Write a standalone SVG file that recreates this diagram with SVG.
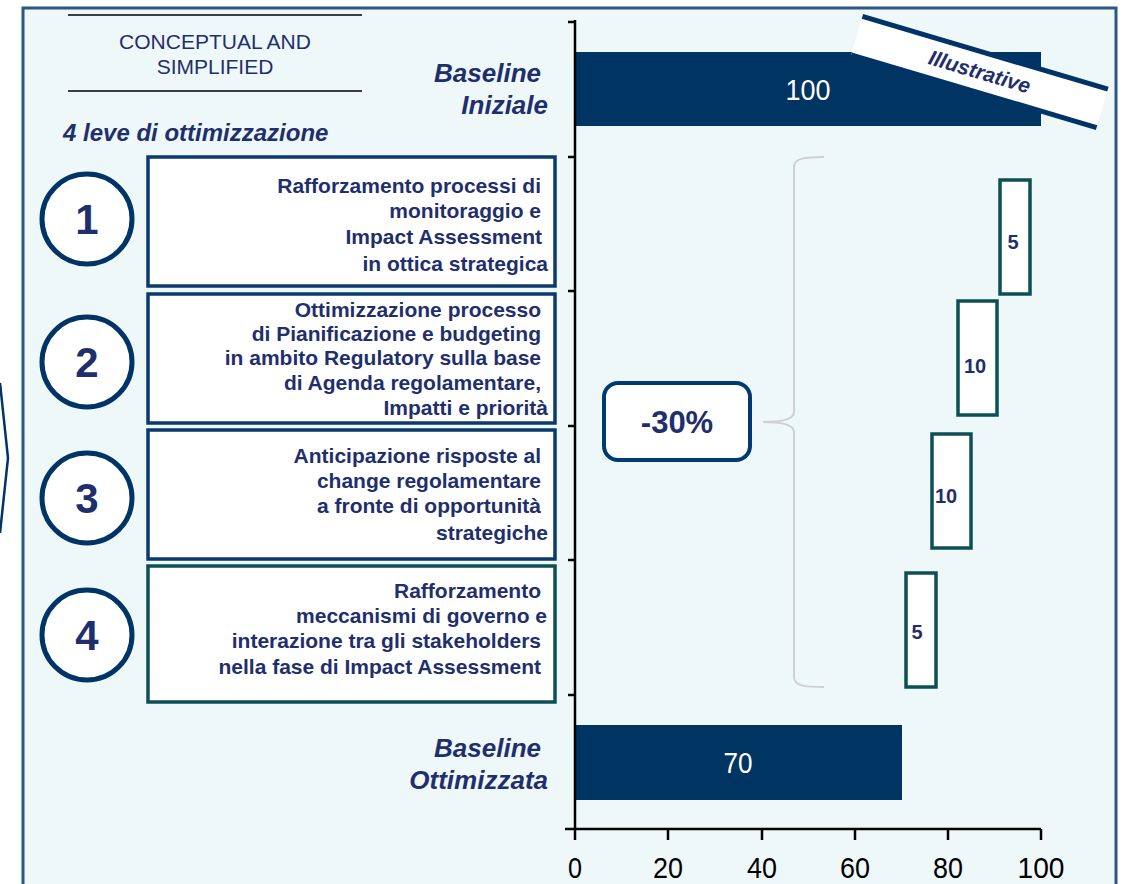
<svg xmlns="http://www.w3.org/2000/svg" width="1127" height="884" viewBox="0 0 1127 884">
<defs>
<style>
.t{font-family:"Liberation Sans",Arial,sans-serif;fill:#1f2f6e}
.b{font-weight:bold}
.lv{font-family:"Liberation Sans",Arial,sans-serif;fill:#1f2f6e;font-weight:bold;font-size:21px;text-anchor:end}
.bl{font-family:"Liberation Sans",Arial,sans-serif;fill:#1f2f6e;font-weight:bold;font-style:italic;font-size:26px;text-anchor:end}
.circ{fill:#ffffff;stroke:#003366;stroke-width:5}
.num{font-family:"Liberation Sans",Arial,sans-serif;fill:#1f2f6e;font-weight:bold;font-size:42px;text-anchor:middle}
.box{fill:#ffffff;stroke:#0a3a6b;stroke-width:3.5}
.boxg{fill:#ffffff;stroke:#0d4f55;stroke-width:3.5}
.wf{fill:#ffffff;stroke:#0d4f55;stroke-width:3.5}
.wft{font-family:"Liberation Sans",Arial,sans-serif;fill:#1f2f6e;font-weight:bold;font-size:20px;text-anchor:middle}
.bar{fill:#003462}
.bart{font-family:"Liberation Sans",Arial,sans-serif;fill:#ffffff;font-size:29px;text-anchor:middle}
.ax{stroke:#000000;stroke-width:2.5;fill:none}
.axt{font-family:"Liberation Sans",Arial,sans-serif;fill:#000000;font-size:30px;text-anchor:middle}
</style>
</defs>
<rect x="0" y="0" width="1127" height="884" fill="#ffffff"/>
<polyline points="0,383 8,458 0,533" fill="none" stroke="#003366" stroke-width="2.5"/>
<rect id="panel" x="23" y="8" width="1093" height="890" fill="#eff8f9" stroke="#2b5785" stroke-width="3"/>

<g id="header">
<line x1="68" y1="15" x2="362" y2="15" stroke="#000" stroke-width="1.5"/>
<line x1="68" y1="91" x2="362" y2="91" stroke="#000" stroke-width="1.5"/>
<text class="t" x="215" y="49" font-size="21" text-anchor="middle" fill="#2a3a7a">CONCEPTUAL AND</text>
<text class="t" x="215" y="74" font-size="21" text-anchor="middle" fill="#2a3a7a">SIMPLIFIED</text>
</g>
<text class="t b" x="63" y="141" font-size="24" font-style="italic">4 leve di ottimizzazione</text>

<g id="baseline-iniziale-label">
<text class="bl" x="541" y="82">Baseline</text>
<text class="bl" x="548" y="114">Iniziale</text>
</g>
<g id="baseline-ottimizzata-label">
<text class="bl" x="541" y="757">Baseline</text>
<text class="bl" x="548" y="789">Ottimizzata</text>
</g>

<g id="lever1">
<circle class="circ" cx="87" cy="219" r="45"/>
<text class="num" x="87" y="234">1</text>
<rect class="box" x="148" y="157" width="407" height="129"/>
<text class="lv" x="541" y="193">Rafforzamento processi di</text>
<text class="lv" x="541" y="218">monitoraggio e</text>
<text class="lv" x="542" y="244">Impact Assessment</text>
<text class="lv" x="548" y="271">in ottica strategica</text>
</g>
<g id="lever2">
<circle class="circ" cx="87" cy="362" r="45"/>
<text class="num" x="87" y="377">2</text>
<rect class="box" x="148" y="294" width="407" height="129"/>
<text class="lv" x="541" y="317">Ottimizzazione processo</text>
<text class="lv" x="541" y="341">di Pianificazione e budgeting</text>
<text class="lv" x="541" y="365">in ambito Regulatory sulla base</text>
<text class="lv" x="541" y="390">di Agenda regolamentare,</text>
<text class="lv" x="548" y="415">Impatti e priorità</text>
</g>
<g id="lever3">
<circle class="circ" cx="87" cy="498" r="45"/>
<text class="num" x="87" y="513">3</text>
<rect class="box" x="148" y="430" width="407" height="129"/>
<text class="lv" x="541" y="463">Anticipazione risposte al</text>
<text class="lv" x="541" y="488">change regolamentare</text>
<text class="lv" x="541" y="513">a fronte di opportunità</text>
<text class="lv" x="548" y="540">strategiche</text>
</g>
<g id="lever4">
<circle class="circ" cx="87" cy="635" r="45"/>
<text class="num" x="87" y="650">4</text>
<rect class="boxg" x="148" y="566" width="407" height="136"/>
<text class="lv" x="541" y="598">Rafforzamento</text>
<text class="lv" x="547" y="623">meccanismi di governo e</text>
<text class="lv" x="541" y="648">interazione tra gli stakeholders</text>
<text class="lv" x="541" y="674">nella fase di Impact Assessment</text>
</g>

<g id="bar-iniziale">
<rect class="bar" x="575" y="52" width="466" height="74"/>
<text class="bart" x="808" y="100" textLength="45" lengthAdjust="spacingAndGlyphs">100</text>
</g>
<g id="bar-ottimizzata">
<rect class="bar" x="575" y="725" width="327" height="75"/>
<text class="bart" x="738" y="773" textLength="29" lengthAdjust="spacingAndGlyphs">70</text>
</g>

<g id="wf1"><rect class="wf" x="1000" y="180" width="30" height="114"/><text class="wft" x="1013" y="249">5</text></g>
<g id="wf2"><rect class="wf" x="958" y="301" width="39" height="114"/><text class="wft" x="975" y="373">10</text></g>
<g id="wf3"><rect class="wf" x="932" y="434" width="39" height="114"/><text class="wft" x="946" y="503">10</text></g>
<g id="wf4"><rect class="wf" x="906" y="573" width="30" height="114"/><text class="wft" x="917" y="639">5</text></g>

<g id="axes">
<line class="ax" x1="575" y1="20" x2="575" y2="830"/>
<path class="ax" d="M568,22H575M568,157H575M568,291H575M568,426H575M568,560H575M568,695H575"/>
<line class="ax" x1="565" y1="829" x2="1041" y2="829"/>
<path class="ax" d="M575,829V840M668,829V840M762,829V840M855,829V840M948,829V840M1041,829V840"/>
<text class="axt" x="575" y="878" textLength="14" lengthAdjust="spacingAndGlyphs">0</text>
<text class="axt" x="668" y="878" textLength="30" lengthAdjust="spacingAndGlyphs">20</text>
<text class="axt" x="762" y="878" textLength="30" lengthAdjust="spacingAndGlyphs">40</text>
<text class="axt" x="855" y="878" textLength="30" lengthAdjust="spacingAndGlyphs">60</text>
<text class="axt" x="948" y="878" textLength="30" lengthAdjust="spacingAndGlyphs">80</text>
<text class="axt" x="1041" y="878" textLength="47" lengthAdjust="spacingAndGlyphs">100</text>
</g>

<g id="connectors">
<path d="M824,157 C805,157 794,158 794,167 V412 C794,420 780,422 763,422 C780,422 794,424 794,432 V677 C794,686 805,687 824,687" fill="none" stroke="#d0d0d0" stroke-width="2"/>
</g>

<g id="reduction">
<rect x="604" y="383" width="146" height="77" rx="14" fill="#ffffff" stroke="#003a70" stroke-width="4"/>
<text class="t b" x="677" y="433" font-size="31" text-anchor="middle">-30%</text>
</g>

<g id="illustrative" transform="translate(979.5,72) rotate(16.5)">
<rect x="-128" y="-20.5" width="256" height="41" fill="#ffffff"/>
<line x1="-128" y1="-20" x2="128" y2="-20" stroke="#003366" stroke-width="5"/>
<line x1="-128" y1="20" x2="128" y2="20" stroke="#003366" stroke-width="5"/>
<text class="t b" x="0" y="7" font-size="21" font-style="italic" text-anchor="middle">Illustrative</text>
</g>
</svg>
